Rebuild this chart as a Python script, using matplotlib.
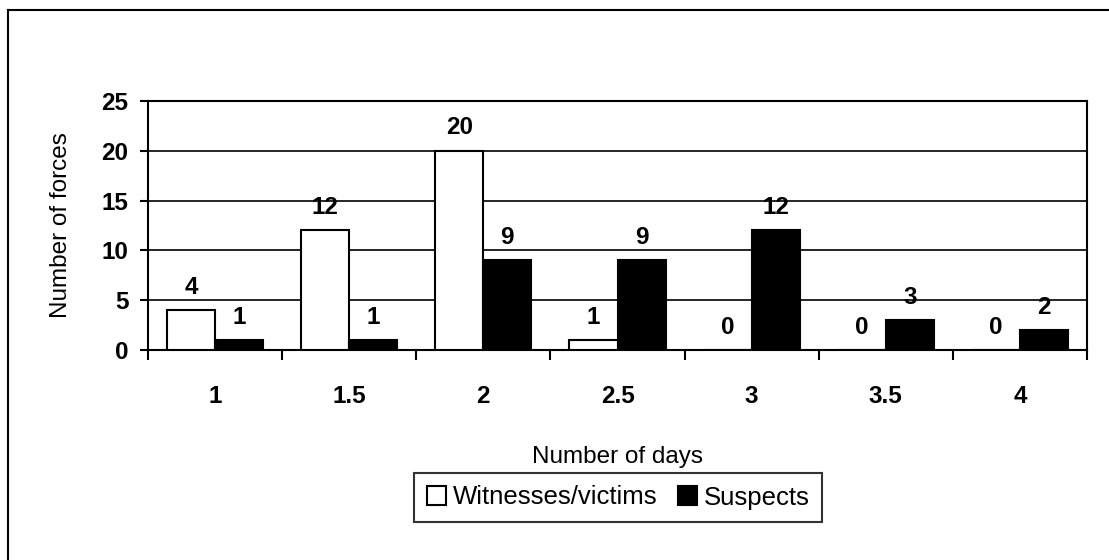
import numpy as np
import matplotlib.pyplot as plt
from matplotlib.lines import Line2D

days = ['1', '1.5', '2', '2.5', '3', '3.5', '4']
witnesses = [4, 12, 20, 1, 0, 0, 0]
suspects = [1, 1, 9, 9, 12, 3, 2]

plt.rcParams['font.family'] = ['Liberation Sans', 'DejaVu Sans']

W, H = 1109, 560
fig = plt.figure(figsize=(W / 100, H / 100), dpi=100)
ax = fig.add_axes([148 / W, 1 - 350 / H, (1087 - 148) / W, (350 - 101) / H])

x = np.arange(len(days))
w = 0.358
ax.bar(x - w / 2, witnesses, w, color='white', edgecolor='black',
       linewidth=1.5, zorder=3, label='Witnesses/victims')
ax.bar(x + w / 2, suspects, w, color='black', edgecolor='black',
       linewidth=1.5, zorder=3, label='Suspects')

# value labels above each bar
for xs, vals in ((x - w / 2, witnesses), (x + w / 2, suspects)):
    for xi, v in zip(xs, vals):
        ax.annotate(str(v), (xi, v), xytext=(0, 16.5), textcoords='offset points',
                    ha='center', va='center', fontsize=17.5, fontweight='bold', zorder=5)

ax.set_xlim(-0.5, len(days) - 0.5)
ax.set_ylim(0, 25)
ax.set_yticks(range(0, 26, 5))
ax.yaxis.grid(True, color='black', linewidth=1.2, zorder=1)
ax.set_axisbelow(True)

# tick marks at category boundaries, labels at centres
ax.set_xticks(np.arange(-0.5, len(days), 1))
ax.set_xticklabels([])
ax.set_xticks(x, minor=True)
ax.set_xticklabels(days, minor=True, fontsize=17.5, fontweight='bold')
ax.tick_params(axis='x', which='major', direction='out', length=7, width=1.5)
ax.tick_params(axis='x', which='minor', length=0, pad=25)
ax.tick_params(axis='y', direction='out', length=6, width=1.5, pad=8, labelsize=17.5)
for lbl in ax.get_yticklabels():
    lbl.set_fontweight('bold')

for s in ax.spines.values():
    s.set_linewidth(1.5)
    s.set_color('black')

ax.set_ylabel('Number of forces', fontsize=17.5)
ax.yaxis.set_label_coords(-0.081, 0.5)
ax.set_xlabel('Number of days', fontsize=17.5)
ax.xaxis.set_label_coords(0.5, -0.386)

leg = fig.legend(loc='center', bbox_to_anchor=(618 / W, 1 - 497.5 / H),
                 ncol=2, fontsize=18.5, frameon=True, fancybox=False,
                 edgecolor='black', handlelength=0.75, handleheight=0.75,
                 handletextpad=0.25, columnspacing=0.8, borderpad=0.5,
                 borderaxespad=0)
leg.get_frame().set_linewidth(1.5)

# outer chart border (top and left edges)
fig.add_artist(Line2D([8 / W, 8 / W], [0, 1 - 10 / H], color='black', linewidth=1.5))
fig.add_artist(Line2D([8 / W, 1], [1 - 10 / H, 1 - 10 / H], color='black', linewidth=1.5))

fig.savefig('out.png', dpi=100)
